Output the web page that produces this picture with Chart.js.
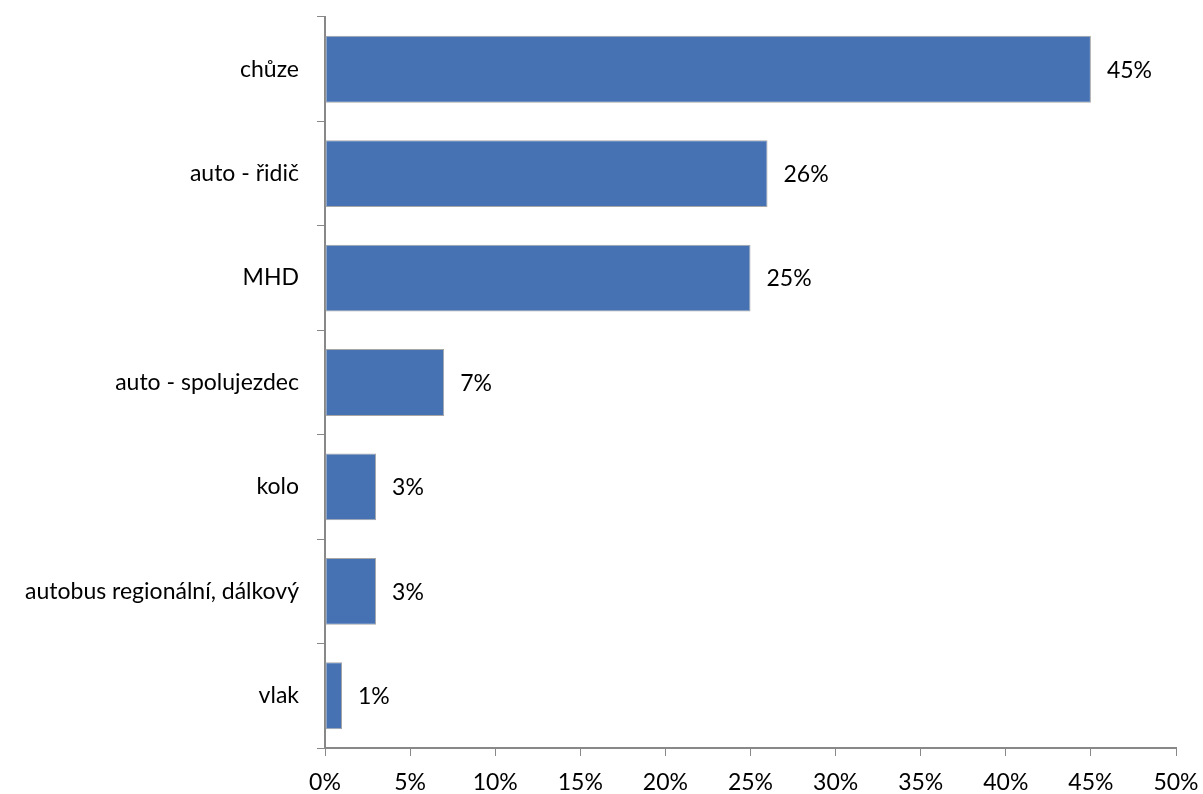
<!DOCTYPE html>
<html>
<head>
<meta charset="utf-8">
<script src="https://cdn.jsdelivr.net/npm/chart.js@4/dist/chart.umd.min.js"></script>
<style>
  html, body { margin: 0; padding: 0; background: #fff; }
  #wrap { width: 1203px; height: 794px; }
</style>
</head>
<body>
<div id="wrap"><canvas id="chartDoprava"></canvas></div>
<script>
// podíl způsobů dopravy (%)
const kategorie = ['chůze', 'auto - řidič', 'MHD', 'auto - spolujezdec', 'kolo', 'autobus regionální, dálkový', 'vlak'];
const podil = [45, 26, 25, 7, 3, 3, 1];
const osaMax = 50;
const osaKrok = 5;

const FONT = { family: 'Lato, "Noto Sans", sans-serif', size: 23 };

// popisky hodnot za koncem sloupce
const hodnotyPlugin = {
    id: 'hodnoty',
    afterDatasetsDraw(chart) {
        const ctx = chart.ctx;
        const meta = chart.getDatasetMeta(0);
        ctx.save();
        ctx.font = FONT.size + 'px ' + FONT.family;
        ctx.fillStyle = '#000';
        ctx.textAlign = 'left';
        ctx.textBaseline = 'middle';
        meta.data.forEach(function (bar, i) {
            ctx.fillText(podil[i] + '%', bar.x + 16, bar.y + 1);
        });
        ctx.restore();
    }
};

new Chart(document.getElementById('chartDoprava'), {
    type: 'bar',
    data: {
        labels: kategorie,
        datasets: [{
            data: podil,
            backgroundColor: '#4672b4',
            borderColor: '#a6a6a6',
            borderWidth: 1,
            borderSkipped: false,
            barPercentage: 0.64,
            categoryPercentage: 1
        }]
    },
    options: {
        indexAxis: 'y',
        responsive: true,
        maintainAspectRatio: false,
        animation: false,
        layout: { padding: { top: 17, right: 27, left: 0, bottom: 0 } },
        plugins: {
            legend: { display: false },
            tooltip: { enabled: false }
        },
        scales: {
            x: {
                min: 0,
                max: osaMax,
                ticks: {
                    stepSize: osaKrok,
                    color: '#000',
                    font: FONT,
                    padding: 13,
                    callback: function (v) { return v + '%'; }
                },
                grid: { drawOnChartArea: false, drawTicks: true, tickLength: 8, color: '#888' },
                border: { color: '#888', width: 2 },
                afterFit: function (scale) {
                    scale.height = 46;
                    scale.paddingLeft = 0;
                    scale.paddingRight = 0;
                }
            },
            y: {
                ticks: { color: '#000', font: FONT, padding: 18 },
                grid: { drawOnChartArea: false, drawTicks: true, tickLength: 8, color: '#888', offset: true },
                border: { color: '#888', width: 2 },
                afterFit: function (scale) {
                    scale.width = 325;
                    scale.paddingTop = 0;
                    scale.paddingBottom = 0;
                }
            }
        }
    },
    plugins: [hodnotyPlugin]
});
</script>
</body>
</html>
